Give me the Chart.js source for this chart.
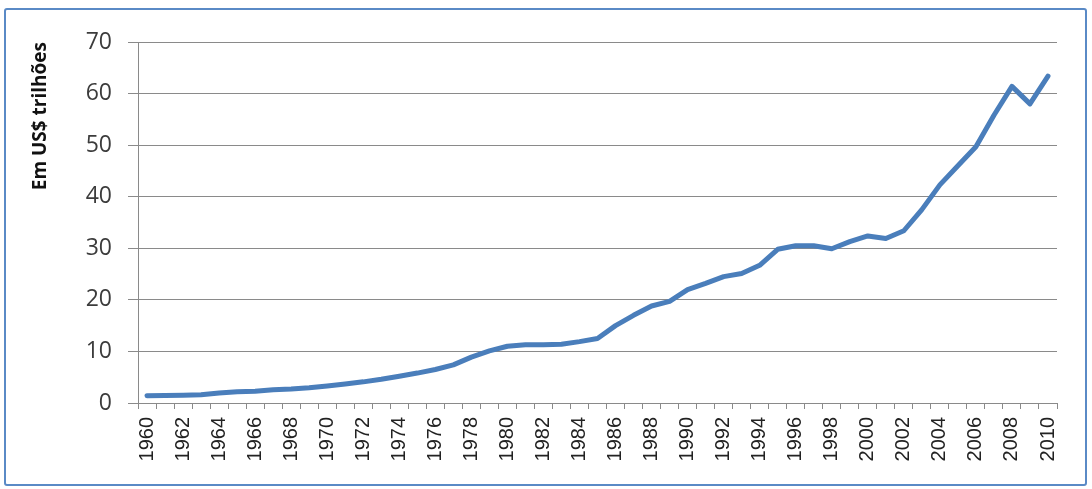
<!DOCTYPE html>
<html>
<head>
<meta charset="utf-8">
<script src="https://cdn.jsdelivr.net/npm/chart.js@4/dist/chart.umd.min.js"></script>
<style>
  html, body { margin: 0; padding: 0; background: #ffffff; }
  #wrap { position: relative; width: 1092px; height: 489px; }
  #frame { position: absolute; left: 4px; top: 8px; width: 1079px; height: 474px; border: 2px solid #5a8ac6; border-radius: 3px; box-sizing: content-box; pointer-events: none; }
  canvas { position: absolute; left: 0; top: 0; }
</style>
</head>
<body>
<div id="wrap">
  <canvas id="c" width="1092" height="489"></canvas>
  <div id="frame"></div>
</div>
<script>
const years = [];
for (let y = 1960; y <= 2010; y++) years.push(String(y));

const values = [
  1.4, 1.45, 1.5, 1.6, 1.95, 2.2, 2.3, 2.55, 2.7, 2.95,
  3.3, 3.7, 4.1, 4.6, 5.2, 5.8, 6.5, 7.4, 8.9, 10.1,
  11.0, 11.3, 11.3, 11.4, 11.9, 12.5, 15.0, 17.0, 18.8, 19.7,
  22.0, 23.2, 24.5, 25.1, 26.7, 29.8, 30.5, 30.5, 29.9, 31.3,
  32.4, 31.9, 33.4, 37.5, 42.3, 46.0, 49.7, 55.8, 61.4, 58.0,
  63.4
];

const yTicks = [0, 10, 20, 30, 40, 50, 60, 70];
const yTitle = 'Em US$ trilhões';

const gridColor = '#8a8a8a';

new Chart(document.getElementById('c'), {
  type: 'line',
  data: {
    labels: years,
    datasets: [{
      data: values,
      borderColor: '#4a7ebb',
      backgroundColor: '#4a7ebb',
      borderWidth: 5,
      pointRadius: 0,
      tension: 0,
      borderJoinStyle: 'round',
      borderCapStyle: 'round'
    }]
  },
  options: {
    responsive: false,
    animation: false,
    events: [],
    layout: { padding: { left: 29, right: 35, top: 42, bottom: 0 } },
    plugins: { legend: { display: false }, tooltip: { enabled: false } },
    scales: {
      x: {
        type: 'category',
        offset: true,
        grid: {
          offset: true,
          drawOnChartArea: false,
          drawTicks: true,
          tickLength: 6,
          color: gridColor,
          lineWidth: 1
        },
        border: { color: gridColor, width: 1 },
        ticks: {
          autoSkip: false,
          maxRotation: 90,
          minRotation: 90,
          padding: 8,
          color: '#222222',
          font: { family: 'Liberation Sans', size: 20 },
          callback: function(v, i) { return (i % 2 === 0) ? years[i] : ''; }
        },
        afterFit: function(s) { s.height = 86; }
      },
      y: {
        min: 0,
        max: 70,
        afterBuildTicks: function(s) { s.ticks = yTicks.map(v => ({ value: v })); },
        grid: {
          color: gridColor,
          lineWidth: 1,
          drawTicks: true,
          tickLength: 10,
          tickColor: gridColor
        },
        border: { color: gridColor, width: 1 },
        ticks: {
          padding: 16,
          color: '#3c3c3c',
          font: { family: 'Open Sans', size: 23 }
        },
        title: {
          display: true,
          text: yTitle,
          align: 'end',
          color: '#111111',
          font: { family: 'Open Sans', size: 19, weight: 'bold' },
          padding: { top: 0, bottom: 0 }
        },
        afterFit: function(s) { s.width = 109; }
      }
    }
  }
});
</script>
</body>
</html>
